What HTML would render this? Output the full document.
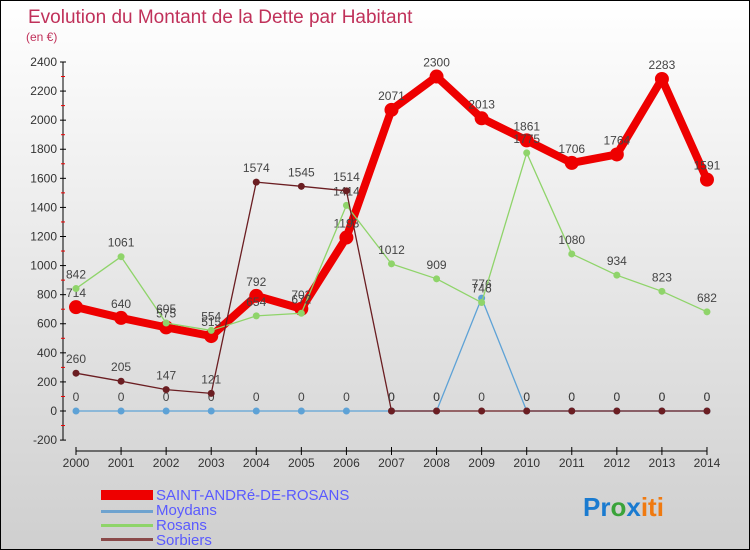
<!DOCTYPE html>
<html><head><meta charset="utf-8">
<style>
body{margin:0}
#c{width:750px;height:550px;position:relative;box-sizing:border-box;border:1px solid #000;background:linear-gradient(#fff,#cfcfcf);font-family:"Liberation Sans",sans-serif;overflow:hidden}
text{font-family:"Liberation Sans",sans-serif}
</style></head><body>
<div id="c">
<svg id="s" width="750" height="550">
<text x="27" y="22" font-size="19" fill="#c0315a">Evolution du Montant de la Dette par Habitant</text>
<text x="25" y="40" font-size="12" fill="#c0315a">(en €)</text>
<g id="ax"></g><g id="ser"></g>
<g>
<rect x="100" y="489" width="52" height="10" fill="#e00"/>
<text x="155" y="499" font-size="15" fill="#5a5aff">SAINT-ANDRé-DE-ROSANS</text>
<rect x="100" y="509" width="52" height="3" fill="#6fa3cf"/>
<text x="155" y="514" font-size="15" fill="#5a5aff">Moydans</text>
<rect x="100" y="523" width="52" height="3" fill="#8fd46a"/>
<text x="155" y="529" font-size="15" fill="#5a5aff">Rosans</text>
<rect x="100" y="537" width="52" height="3" fill="#8a4a4a"/>
<text x="155" y="544" font-size="15" fill="#5a5aff">Sorbiers</text>
</g>
<text x="582" y="515" font-size="26" font-weight="bold"><tspan fill="#1a7bd0">Pr</tspan><tspan fill="#3aa33a">o</tspan><tspan fill="#1a7bd0">x</tspan><tspan fill="#f07a10">iti</tspan></text>
</svg>
</div>
<script>
const years=[2000,2001,2002,2003,2004,2005,2006,2007,2008,2009,2010,2011,2012,2013,2014];
const yTicks=[-200,0,200,400,600,800,1000,1200,1400,1600,1800,2000,2200,2400];
const saintAndre=[714,640,575,515,792,703,1193,2071,2300,2013,1861,1706,1764,2283,1591];
const moydans=[0,0,0,0,0,0,0,0,0,776,0,0,0,0,0];
const rosans=[842,1061,605,554,654,672,1414,1012,909,746,1775,1080,934,823,682];
const sorbiers=[260,205,147,121,1574,1545,1514,0,0,0,0,0,0,0,0];
const NS="http://www.w3.org/2000/svg";
function X(i){return 75+i*45.07;}
function Y(v){return 410-v*0.14542;}
function mk(t,a,p){const e=document.createElementNS(NS,t);for(const k in a)e.setAttribute(k,a[k]);p.appendChild(e);return e;}
const ax=document.getElementById('ax');
const yl=mk('line',{x1:62,y1:Y(2400),x2:62,y2:Y(-200),stroke:'#000'},ax);


yTicks.forEach((v,i)=>{
  mk('line',{x1:59,x2:65,y1:Y(v),y2:Y(v),stroke:'#000'},ax);
  if(i<yTicks.length-1)mk('line',{x1:60,x2:64,y1:Y(v+100),y2:Y(v+100),stroke:'#e00'},ax);
  const t=mk('text',{x:56,y:Y(v)+4,'font-size':12,fill:'#333','text-anchor':'end'},ax);
  t.textContent=v;
  
  
});
const xl=mk('line',{x1:75,y1:450,x2:X(14),y2:450,stroke:'#000'},ax);


years.forEach((y,i)=>{
  mk('line',{x1:X(i),x2:X(i),y1:446,y2:454,stroke:'#000'},ax);
  const t=mk('text',{x:X(i),y:466,'font-size':12,fill:'#333','text-anchor':'middle'},ax);
  t.textContent=y;
  
  
});
const ser=document.getElementById('ser');
function draw(data,name,color,w,r){
  const g=mk('g',{},ser);
  
  
  const pl=mk('polyline',{points:data.map((v,i)=>X(i)+','+Y(v)).join(' '),fill:'none',stroke:color,'stroke-width':w,'stroke-linejoin':'round'},g);
  
  
  data.forEach((v,i)=>{
    const c=mk('circle',{cx:X(i),cy:Y(v),r:r,fill:color},g);
    
    
    const t=mk('text',{x:X(i),y:Y(v)-10,'font-size':12,fill:'#444','text-anchor':'middle'},g);
    t.textContent=v;
    
    
  });
}
draw(saintAndre,'saint-andre','#ee0000',8,7);
draw(moydans,'moydans','#5ea2d6',1.3,3.5);
draw(rosans,'rosans','#8fd46a',1.3,3.5);
draw(sorbiers,'sorbiers','#6b1e22',1.3,3.5);
</script>
</body></html>
